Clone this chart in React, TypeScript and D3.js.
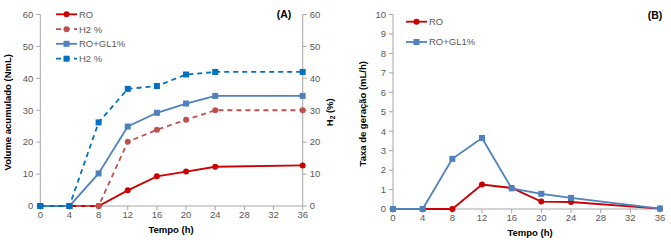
import React from "react";
import * as d3 from "d3";

const hours = [0, 4, 8, 12, 16, 20, 24, 36];
const roVolume = [0, 0, 0, 4.9, 9.3, 10.8, 12.3, 12.7];
const roH2 = [0, 0, 0, 20.1, 23.9, 27.0, 30.0, 30.0];
const glVolume = [0, 0, 10.2, 24.9, 29.2, 32.1, 34.5, 34.5];
const glH2 = [0, 0, 26.2, 36.7, 37.6, 41.2, 42.0, 42.0];
const roRate = [0, 0, 0, 1.26, 1.08, 0.38, 0.36, 0.02];
const glRate = [0, 0, 2.58, 3.65, 1.06, 0.78, 0.57, 0.02];
const xTicks = [0, 4, 8, 12, 16, 20, 24, 28, 32, 36];
const leftTicks = [0, 10, 20, 30, 40, 50, 60];
const rateTicks = [0, 1, 2, 3, 4, 5, 6, 7, 8, 9, 10];

const FONT = "'Liberation Sans', Arial, sans-serif";
const AXIS = "#a6a6a6";
const TXT = "#595959";
const RED = "#cc0000";
const RED2 = "#c0504d";
const BLUE = "#4f81bd";
const BLUE2 = "#0070c0";

type P = [number, number];

function Marker({ x, y, shape, color }: { x: number; y: number; shape: string; color: string }) {
  return shape === "circle" ? (
    <circle cx={x} cy={y} r={3} fill={color} />
  ) : (
    <rect x={x - 3} y={y - 3} width={6} height={6} fill={color} />
  );
}

function Series({ pts, color, dash, shape }: { pts: P[]; color: string; dash?: string; shape: string }) {
  const line = d3.line<P>().x((d) => d[0]).y((d) => d[1]);
  return (
    <g>
      <path d={line(pts) || ""} fill="none" stroke={color} strokeWidth={1.8} strokeDasharray={dash} />
      {pts.map((p, i) => (
        <Marker key={i} x={p[0]} y={p[1]} shape={shape} color={color} />
      ))}
    </g>
  );
}

function LegendItem({ x, y, color, dash, shape, label }: any) {
  return (
    <g>
      <line x1={x} x2={x + 21} y1={y} y2={y} stroke={color} strokeWidth={1.8} strokeDasharray={dash} />
      <Marker x={x + 10.5} y={y} shape={shape} color={color} />
      <text x={x + 23} y={y + 3.3} fontSize={9.5} fill={TXT} fontFamily={FONT}>
        {label}
      </text>
    </g>
  );
}

export default function App() {
  // Chart A
  const xA = d3.scaleLinear().domain([0, 36]).range([40.3, 302.7]);
  const yA = d3.scaleLinear().domain([0, 60]).range([206, 14.5]);
  // Chart B
  const xB = d3.scaleLinear().domain([0, 36]).range([393, 660]);
  const yB = d3.scaleLinear().domain([0, 10]).range([209, 14.5]);

  const ptsA = (v: number[]): P[] => hours.map((h, i) => [xA(h), yA(v[i])]);
  const ptsB = (v: number[]): P[] => hours.map((h, i) => [xB(h), yB(v[i])]);

  return (
    <svg
      width={671}
      height={243}
      style={{ position: "absolute", left: 0, top: 0, background: "#fff" }}
      fontFamily={FONT}
    >
      <rect width={671} height={243} fill="#fff" />
      {/* ===== Chart A ===== */}
      <g>
        <line x1={xA(0)} x2={xA(0)} y1={yA(60)} y2={yA(0)} stroke={AXIS} strokeWidth={1} />
        {leftTicks.map((t) => (
          <g key={"la" + t}>
            <line x1={xA(0) - 4} x2={xA(0)} y1={yA(t)} y2={yA(t)} stroke={AXIS} />
            <text x={xA(0) - 7} y={yA(t) + 3.3} fontSize={9.5} fill={TXT} textAnchor="end">
              {t}
            </text>
          </g>
        ))}
        <line x1={xA(36)} x2={xA(36)} y1={yA(60)} y2={yA(0)} stroke={AXIS} strokeWidth={1} />
        {leftTicks.map((t) => (
          <g key={"ra" + t}>
            <line x1={xA(36)} x2={xA(36) + 4} y1={yA(t)} y2={yA(t)} stroke={AXIS} />
            <text x={xA(36) + 7} y={yA(t) + 3.3} fontSize={9.5} fill={TXT} textAnchor="start">
              {t}
            </text>
          </g>
        ))}
        <line x1={xA(0)} x2={xA(36)} y1={yA(0)} y2={yA(0)} stroke={AXIS} />
        {xTicks.map((t) => (
          <g key={"xa" + t}>
            <line x1={xA(t)} x2={xA(t)} y1={yA(0)} y2={yA(0) + 4} stroke={AXIS} />
            <text x={xA(t)} y={yA(0) + 12} fontSize={9.5} fill={TXT} textAnchor="middle">
              {t}
            </text>
          </g>
        ))}
        <text x={171} y={233} fontSize={9.5} fontWeight="bold" fill="#000" textAnchor="middle">
          Tempo (h)
        </text>
        <text
          transform={`translate(11,${(yA(0) + yA(60)) / 2 + 2}) rotate(-90)`}
          fontSize={9.5}
          fontWeight="bold"
          fill="#000"
          textAnchor="middle"
        >
          Volume acumulado (NmL)
        </text>
        <text
          transform={`translate(333,${(yA(0) + yA(60)) / 2 + 2}) rotate(-90)`}
          fontSize={9.5}
          fontWeight="bold"
          fill="#000"
          textAnchor="middle"
        >
          H<tspan fontSize={6.5} dy={2}>2</tspan>
          <tspan dy={-2}> (%)</tspan>
        </text>
        <text x={284} y={18} fontSize={10.5} fontWeight="bold" fill="#000" textAnchor="middle">
          (A)
        </text>

        <Series pts={ptsA(roVolume)} color={RED} shape="circle" />
        <Series pts={ptsA(roH2)} color={RED2} dash="5,4" shape="circle" />
        <Series pts={ptsA(glVolume)} color={BLUE} shape="square" />
        <Series pts={ptsA(glH2)} color={BLUE2} dash="5,4" shape="square" />

        <LegendItem x={56} y={14.3} color={RED} shape="circle" label="RO" />
        <LegendItem x={56} y={29.2} color={RED2} dash="5,4" shape="circle" label="H2 %" />
        <LegendItem x={56} y={43.8} color={BLUE} shape="square" label="RO+GL1%" />
        <LegendItem x={56} y={58.7} color={BLUE2} dash="5,4" shape="square" label="H2 %" />
      </g>

      {/* ===== Chart B ===== */}
      <g>
        <line x1={xB(0)} x2={xB(0)} y1={yB(10)} y2={yB(0)} stroke={AXIS} />
        {rateTicks.map((t) => (
          <g key={"lb" + t}>
            <line x1={xB(0) - 4} x2={xB(0)} y1={yB(t)} y2={yB(t)} stroke={AXIS} />
            <text x={xB(0) - 7} y={yB(t) + 3.3} fontSize={9.5} fill={TXT} textAnchor="end">
              {t}
            </text>
          </g>
        ))}
        <line x1={xB(0)} x2={xB(36)} y1={yB(0)} y2={yB(0)} stroke={AXIS} />
        {xTicks.map((t) => (
          <g key={"xb" + t}>
            <line x1={xB(t)} x2={xB(t)} y1={yB(0)} y2={yB(0) + 4} stroke={AXIS} />
            <text x={xB(t)} y={yB(0) + 12} fontSize={9.5} fill={TXT} textAnchor="middle">
              {t}
            </text>
          </g>
        ))}
        <text x={530} y={236} fontSize={9.5} fontWeight="bold" fill="#000" textAnchor="middle">
          Tempo (h)
        </text>
        <text
          transform={`translate(366,${(yB(0) + yB(10)) / 2 + 2}) rotate(-90)`}
          fontSize={9.5}
          fontWeight="bold"
          fill="#000"
          textAnchor="middle"
        >
          Taxa de geração (mL/h)
        </text>
        <text x={655} y={19} fontSize={10.5} fontWeight="bold" fill="#000" textAnchor="middle">
          (B)
        </text>

        <Series pts={ptsB(roRate)} color={RED} shape="circle" />
        <Series pts={ptsB(glRate)} color={BLUE} shape="square" />

        <LegendItem x={406} y={21.7} color={RED} shape="circle" label="RO" />
        <LegendItem x={406} y={42} color={BLUE} shape="square" label="RO+GL1%" />
      </g>
    </svg>
  );
}
